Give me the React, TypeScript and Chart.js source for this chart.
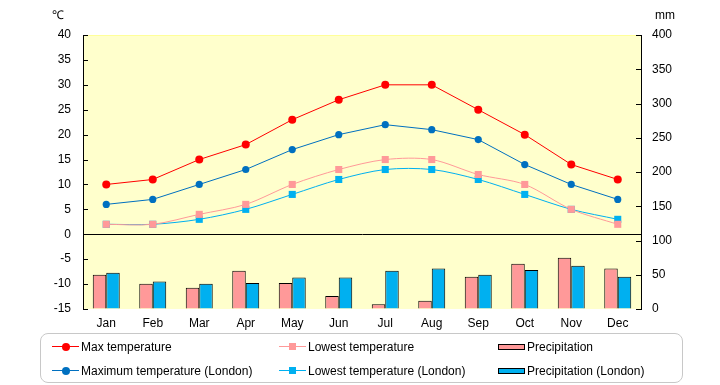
import React, { useEffect, useRef } from 'react';
import { Chart, registerables } from 'chart.js';

Chart.register(...registerables);

const months = ['Jan', 'Feb', 'Mar', 'Apr', 'May', 'Jun', 'Jul', 'Aug', 'Sep', 'Oct', 'Nov', 'Dec'];
const maxTemp = [10, 11, 15, 18, 23, 27, 30, 30, 25, 20, 14, 11];
const lowTemp = [2, 2, 4, 6, 10, 13, 15, 15, 12, 10, 5, 2];
const maxTempLondon = [6, 7, 10, 13, 17, 20, 22, 21, 19, 14, 10, 7];
const lowTempLondon = [2, 2, 3, 5, 8, 11, 13, 13, 11, 8, 5, 3];
const precip = [50, 37, 31, 56, 38, 19, 7, 12, 47, 66, 75, 59];
const precipLondon = [53, 40, 37, 38, 46, 46, 56, 59, 50, 57, 63, 47];

const tempMin = -15;
const tempMax = 40;
const tempStep = 5;
const precipMin = 0;
const precipMax = 400;
const precipStep = 50;

const FONT = '"Liberation Sans", Arial, sans-serif';

const RED = '#ff0000';
const BLUE = '#0070c0';
const PINK = '#ff9999';
const CYAN = '#00b0f0';

const decorPlugin = {
  id: 'decor',
  beforeDraw(chart: any) {
    const { ctx, chartArea } = chart;
    ctx.save();
    ctx.fillStyle = '#ffffcc';
    ctx.fillRect(chartArea.left, chartArea.top, chartArea.right - chartArea.left, chartArea.bottom - chartArea.top);
    ctx.strokeStyle = '#ffff99';
    ctx.lineWidth = 1;
    ctx.beginPath();
    ctx.moveTo(chartArea.left, chartArea.top + 0.5);
    ctx.lineTo(chartArea.right, chartArea.top + 0.5);
    ctx.stroke();
    ctx.restore();
  },
  afterDraw(chart: any) {
    const { ctx, chartArea, scales } = chart;
    ctx.save();
    ctx.strokeStyle = '#000';
    ctx.lineWidth = 1;
    const y = scales.y;
    const y1 = scales.y1;
    ctx.beginPath();
    y.ticks.forEach((t: any) => {
      const py = Math.round(y.getPixelForValue(t.value)) + 0.5;
      ctx.moveTo(chartArea.left, py);
      ctx.lineTo(chartArea.left + 5, py);
    });
    y1.ticks.forEach((t: any) => {
      const py = Math.round(y1.getPixelForValue(t.value)) + 0.5;
      ctx.moveTo(chartArea.right - 5, py);
      ctx.lineTo(chartArea.right, py);
    });
    ctx.stroke();
    ctx.fillStyle = '#000';
    ctx.font = '12px ' + FONT;
    ctx.textBaseline = 'middle';
    ctx.textAlign = 'left';
    ctx.fillText('℃', 52, 16);
    ctx.fillText('mm', 655, 16);
    ctx.restore();
  },
};

function LineMark({ color, shape }: { color: string; shape: 'circle' | 'square' }) {
  return (
    <span style={{ position: 'relative', display: 'inline-block', width: 27, height: 10, marginRight: 2 }}>
      <span style={{ position: 'absolute', left: 0, right: 0, top: 4, height: 1, background: color }} />
      <span
        style={{
          position: 'absolute',
          left: shape === 'circle' ? 9.5 : 10,
          top: shape === 'circle' ? 0.5 : 1,
          width: shape === 'circle' ? 8 : 7,
          height: shape === 'circle' ? 8 : 7,
          borderRadius: shape === 'circle' ? '50%' : 0,
          background: color,
        }}
      />
    </span>
  );
}

function BarMark({ color }: { color: string }) {
  return (
    <span
      style={{
        display: 'inline-block',
        width: 25,
        height: 4,
        background: color,
        border: '1px solid #000',
        marginRight: 2,
      }}
    />
  );
}

const legendItems = [
  { label: 'Max temperature', left: 52, top: 340, kind: 'line', color: RED, shape: 'circle' },
  { label: 'Lowest temperature', left: 279, top: 340, kind: 'line', color: PINK, shape: 'square' },
  { label: 'Precipitation', left: 498, top: 340, kind: 'bar', color: PINK, shape: 'square' },
  { label: 'Maximum temperature (London)', left: 52, top: 364, kind: 'line', color: BLUE, shape: 'circle' },
  { label: 'Lowest temperature (London)', left: 279, top: 364, kind: 'line', color: CYAN, shape: 'square' },
  { label: 'Precipitation (London)', left: 498, top: 364, kind: 'bar', color: CYAN, shape: 'square' },
];

export default function App() {
  const canvasRef = useRef<HTMLCanvasElement | null>(null);

  useEffect(() => {
    document.body.style.margin = '0';
    const canvas = canvasRef.current;
    if (!canvas) return;
    Chart.defaults.font.family = FONT;
    Chart.defaults.font.size = 12;
    Chart.defaults.color = '#000';

    const chart = new Chart(canvas, {
      type: 'bar',
      data: {
        labels: months,
        datasets: [
          {
            type: 'line',
            label: 'Max temperature',
            data: maxTemp,
            yAxisID: 'y',
            borderColor: RED,
            backgroundColor: RED,
            borderWidth: 1,
            pointStyle: 'circle',
            pointRadius: 4,
            pointBorderWidth: 0,
            tension: 0,
            order: 0,
          },
          {
            type: 'line',
            label: 'Lowest temperature',
            data: lowTemp,
            yAxisID: 'y',
            borderColor: PINK,
            backgroundColor: PINK,
            borderWidth: 1,
            pointStyle: 'rect',
            pointRadius: 5,
            pointBorderWidth: 0,
            tension: 0.3,
            order: 0,
          },
          {
            type: 'line',
            label: 'Maximum temperature (London)',
            data: maxTempLondon,
            yAxisID: 'y',
            borderColor: BLUE,
            backgroundColor: BLUE,
            borderWidth: 1,
            pointStyle: 'circle',
            pointRadius: 3.6,
            pointBorderWidth: 0,
            tension: 0,
            order: 0,
          },
          {
            type: 'line',
            label: 'Lowest temperature (London)',
            data: lowTempLondon,
            yAxisID: 'y',
            borderColor: CYAN,
            backgroundColor: CYAN,
            borderWidth: 1,
            pointStyle: 'rect',
            pointRadius: 5,
            pointBorderWidth: 0,
            tension: 0.3,
            order: 0,
          },
          {
            type: 'bar',
            label: 'Precipitation',
            data: precip,
            yAxisID: 'y1',
            backgroundColor: PINK,
            borderColor: '#000',
            borderWidth: 1,
            barPercentage: 1,
            categoryPercentage: 0.58,
            order: 1,
          },
          {
            type: 'bar',
            label: 'Precipitation (London)',
            data: precipLondon,
            yAxisID: 'y1',
            backgroundColor: CYAN,
            borderColor: '#000',
            borderWidth: 1,
            barPercentage: 1,
            categoryPercentage: 0.58,
            order: 1,
          },
        ],
      },
      options: {
        responsive: false,
        animation: false,
        devicePixelRatio: 1,
        layout: { padding: { top: 35, left: 0, right: 0, bottom: 0 } },
        plugins: {
          legend: { display: false },
          tooltip: { enabled: false },
          title: { display: false },
        },
        scales: {
          x: {
            type: 'category',
            offset: true,
            grid: { display: false },
            border: { display: false },
            ticks: { padding: -1, font: { size: 12, family: FONT }, color: '#000', maxRotation: 0 },
            afterFit: (scale: any) => {
              scale.height = 76;
            },
          },
          y: {
            type: 'linear',
            position: 'left',
            min: tempMin,
            max: tempMax,
            ticks: { stepSize: tempStep, padding: 12, font: { size: 12, family: FONT }, color: '#000' },
            grid: {
              drawTicks: false,
              drawOnChartArea: true,
              color: (c: any) => (c.tick && c.tick.value === 0 ? '#000' : 'rgba(0,0,0,0)'),
              lineWidth: 1,
            },
            border: { display: true, color: '#000', width: 1 },
            afterFit: (scale: any) => {
              scale.width = 83;
            },
          },
          y1: {
            type: 'linear',
            position: 'right',
            min: precipMin,
            max: precipMax,
            ticks: { stepSize: precipStep, padding: 11, font: { size: 12, family: FONT }, color: '#000' },
            grid: { drawTicks: false, drawOnChartArea: false },
            border: { display: true, color: '#000', width: 1 },
            afterFit: (scale: any) => {
              scale.width = 79;
            },
          },
        },
      },
      plugins: [decorPlugin],
    } as any);

    return () => {
      chart.destroy();
    };
  }, []);

  return (
    <div style={{ position: 'fixed', left: 0, top: 0, width: 720, height: 385, background: '#fff', fontFamily: FONT }}>
      <canvas ref={canvasRef} width={720} height={385} style={{ position: 'absolute', left: 0, top: 0, width: 720, height: 385 }} />
      <div
        style={{
          position: 'absolute',
          left: 40,
          top: 333,
          width: 641,
          height: 48,
          border: '1px solid #c8c8c8',
          borderRadius: 8,
          boxSizing: 'content-box',
        }}
      />
      {legendItems.map((it) => (
        <div
          key={it.label}
          style={{
            position: 'absolute',
            left: it.left,
            top: it.top,
            height: 14,
            display: 'flex',
            alignItems: 'center',
            fontSize: 12,
            color: '#000',
            whiteSpace: 'nowrap',
            lineHeight: '14px',
          }}
        >
          {it.kind === 'line' ? (
            <LineMark color={it.color} shape={it.shape as any} />
          ) : (
            <BarMark color={it.color} />
          )}
          <span>{it.label}</span>
        </div>
      ))}
    </div>
  );
}
